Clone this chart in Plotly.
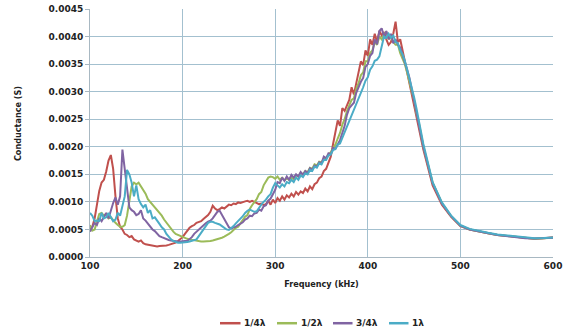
import plotly.graph_objects as go

# Frequency grid (kHz): 2.5 kHz steps 100-460, then 10 kHz steps 470-600
freq_fine = [100 + 2.5 * i for i in range(145)]
freq_tail = [470, 480, 490, 500, 510, 520, 530, 540, 550, 560, 570, 580, 590, 600]
freq = freq_fine + freq_tail

# Conductance values in units of 1e-4 S
quarter = [
    5.0, 5.5, 7.0, 9.5,      12.0, 13.5, 14.0, 15.5,   17.5, 18.5, 16.0, 11.0,
    7.0, 5.5, 5.0, 4.2,      4.0, 3.6, 3.8, 3.2,       3.0, 2.8, 3.0, 2.5,
    2.3, 2.2, 2.1, 2.0,      2.0, 1.9, 2.0, 2.0,       2.1, 2.1, 2.2, 2.3,
    2.4, 2.6, 2.9, 3.3,      3.6, 4.2, 4.8, 5.3,       5.6, 5.8, 6.2, 6.4,
    6.5, 6.9, 7.2, 7.6,      8.2, 9.3, 8.8, 8.5,       8.7, 9.0, 8.8, 9.2,
    9.5, 9.4, 9.7, 9.6,      9.9, 9.8, 10.0, 10.1,     10.2, 10.0, 10.2, 10.0,
    9.8, 9.6, 9.7, 9.4,      9.6, 10.2, 9.5, 10.4,     9.8, 10.7, 10.2, 11.0,
    10.4, 11.2, 10.8, 11.5,  11.0, 11.8, 11.3, 11.9,   11.6, 12.4, 11.9, 12.8,
    12.3, 13.2, 13.5, 14.3,  14.6, 15.6, 16.0, 17.3,   18.2, 20.5, 22.5, 24.8,
    23.8, 27.0, 26.5, 27.5,  28.5, 30.8, 29.5, 31.5,   33.5, 35.5, 34.8, 37.5,
    36.5, 39.5, 38.5, 40.5,  39.0, 41.0, 40.2, 40.8,   39.5, 38.5, 39.0, 40.5,
    42.7, 39.0, 39.5, 37.5,  36.0, 34.0, 31.5, 30.0,   28.0, 26.0, 24.0, 21.5,
    19.5,
    13.0, 9.5, 7.3, 5.6, 5.0, 4.6, 4.3, 4.0, 3.8, 3.6, 3.4, 3.3, 3.4, 3.6,
]
half = [
    5.8, 4.8, 5.0, 6.5,      7.8, 8.0, 7.5, 7.8,       7.0, 7.2, 6.6, 6.2,
    5.8, 5.5, 5.5, 5.8,      7.5, 10.5, 12.8, 13.5,    13.2, 13.5, 12.8, 12.0,
    11.5, 10.5, 10.0, 9.5,   9.0, 8.6, 8.0, 7.5,       6.8, 6.2, 5.6, 5.0,
    4.6, 4.2, 4.0, 3.8,      3.6, 3.4, 3.3, 3.2,       3.1, 3.0, 2.9, 2.9,
    2.8, 2.8, 2.8, 2.8,      2.9, 3.0, 3.1, 3.2,       3.3, 3.5, 3.7, 3.9,
    4.2, 4.5, 4.9, 5.3,      5.5, 6.1, 6.6, 7.3,       7.6, 8.7, 9.4, 10.0,
    10.5, 11.4, 11.8, 13.0,  13.6, 14.4, 14.6, 14.5,   14.2, 14.6, 14.0, 14.4,
    13.9, 14.3, 14.0, 14.4,  14.1, 14.8, 14.6, 15.3,   15.0, 15.6, 15.4, 16.2,
    16.0, 16.8, 16.6, 17.3,  17.2, 17.8, 17.9, 18.6,   19.0, 19.8, 20.4, 21.5,
    22.5, 24.0, 25.0, 26.5,  27.5, 28.5, 28.8, 30.5,   31.5, 33.0, 33.5, 35.5,
    35.5, 37.0, 37.5, 39.0,  38.5, 40.0, 39.5, 40.5,   40.8, 39.5, 40.0, 39.0,
    38.5, 38.5, 37.0, 36.0,  35.0, 33.5, 32.0, 30.0,   28.5, 26.0, 24.5, 22.0,
    20.0,
    13.5, 9.8, 7.4, 5.7, 5.0, 4.6, 4.3, 4.0, 3.8, 3.6, 3.4, 3.3, 3.4, 3.5,
]
three_quarter = [
    4.6, 5.5, 6.2, 5.8,      7.0, 6.5, 7.2, 8.0,       7.0, 8.5, 9.8, 10.8,
    9.5, 11.0, 19.5, 16.0,   12.5, 9.0, 8.5, 8.2,      7.6, 7.8, 8.5, 7.0,
    6.6, 6.0, 5.6, 5.0,      4.7, 4.3, 3.8, 3.6,       3.4, 3.3, 3.1, 3.0,
    2.9, 2.8, 2.8, 2.8,      2.9, 2.9, 2.9, 3.2,       3.6, 4.2, 4.6, 5.0,
    5.4, 5.7, 6.1, 6.4,      6.6, 7.0, 7.6, 8.2,       8.4, 7.6, 6.8, 6.0,
    5.4, 5.2, 5.3, 5.5,      5.8, 6.0, 6.3, 6.8,       7.0, 7.5, 7.4, 7.9,
    8.0, 8.6, 8.4, 9.2,      9.4, 10.2, 10.6, 11.4,    12.2, 13.6, 13.4, 14.4,
    13.8, 14.6, 14.0, 14.9,  14.4, 15.0, 14.6, 15.4,   14.9, 15.6, 15.2, 16.1,
    15.8, 16.6, 16.4, 17.2,  17.0, 18.2, 17.9, 18.8,   18.6, 19.8, 19.6, 20.4,
    21.2, 22.5, 23.8, 25.8,  27.0, 27.5, 28.0, 29.8,   31.0, 31.8, 32.5, 34.5,
    35.0, 36.5, 37.0, 39.5,  38.6, 41.0, 41.5, 40.0,   41.0, 39.5, 40.5, 38.8,
    39.5, 38.5, 38.0, 36.5,  35.5, 34.0, 32.5, 30.5,   28.5, 26.5, 24.5, 22.5,
    20.0,
    13.4, 9.7, 7.4, 5.7, 5.0, 4.6, 4.3, 4.0, 3.8, 3.6, 3.4, 3.35, 3.4, 3.5,
]
full = [
    8.0, 7.5, 6.5, 6.6,      6.5, 8.0, 7.0, 7.2,       8.0, 7.2, 6.5, 6.8,
    8.0, 7.5, 9.0, 11.0,     15.8, 15.0, 13.5, 11.0,   13.0, 10.5, 9.6, 9.0,
    9.5, 8.0, 8.5, 7.0,      7.2, 6.5, 6.0, 5.4,       5.0, 4.2, 3.6, 3.2,
    2.9, 2.7, 2.6, 2.6,      2.6, 2.6, 2.7, 2.8,       2.9, 3.0, 3.2, 3.8,
    4.4, 4.9, 5.6, 6.2,      6.4, 6.4, 6.2, 6.1,       5.9, 5.6, 5.3, 5.0,
    4.9, 5.2, 5.6, 6.1,      6.5, 7.0, 7.4, 8.0,       8.4, 8.6, 8.4, 8.2,
    8.3, 9.0, 9.5, 10.0,     10.4, 11.0, 11.4, 12.6,   13.4, 13.0, 12.6, 13.2,
    12.8, 13.6, 13.4, 14.0,  13.6, 14.4, 14.0, 14.8,   14.5, 15.2, 15.0, 15.8,
    15.6, 16.4, 16.2, 17.0,  16.8, 17.6, 17.6, 18.4,   18.6, 19.4, 19.6, 20.4,
    20.6, 21.6, 22.6, 23.8,  24.8, 25.6, 26.8, 27.6,   28.6, 29.8, 30.8, 32.0,
    32.6, 34.0, 34.6, 35.6,  35.8, 36.4, 38.0, 40.0,   39.8, 40.5, 39.8, 40.2,
    39.0, 38.8, 37.5, 36.8,  35.6, 34.0, 32.5, 31.0,   29.0, 27.0, 25.0, 23.0,
    20.5,
    13.6, 9.9, 7.5, 5.8, 5.1, 4.7, 4.4, 4.1, 3.9, 3.7, 3.5, 3.4, 3.45, 3.55,
]

series_names = ["1/4λ", "1/2λ", "3/4λ", "1λ"]
series_values = [quarter, half, three_quarter, full]
series_colors = ["#c0504d", "#9bbb59", "#8064a2", "#4bacc6"]

x_ticks = [100, 200, 300, 400, 500, 600]
y_ticks = [0.0, 0.0005, 0.0010, 0.0015, 0.0020, 0.0025, 0.0030, 0.0035, 0.0040, 0.0045]
y_tick_labels = ["0.0000", "0.0005", "0.0010", "0.0015", "0.0020", "0.0025",
                 "0.0030", "0.0035", "0.0040", "0.0045"]

fig = go.Figure()
for name, vals, col in zip(series_names, series_values, series_colors):
    assert len(vals) == len(freq), (name, len(vals))
    fig.add_trace(go.Scatter(
        x=freq, y=[v * 1e-4 for v in vals], mode="lines", name=name,
        line=dict(color=col, width=2), showlegend=False,
    ))

title_font = dict(family="DejaVu Sans Condensed", size=9, color="#222222", weight="bold")
tick_font = dict(family="DejaVu Sans", size=9, color="#222222", weight="bold")

# Compact Excel-style legend (short line samples) below the axis title
legend_y = -0.267
legend_line_x = [(0.2808, 0.3251), (0.4039, 0.4471), (0.5248, 0.5670), (0.6458, 0.6879)]
for (x0, x1), name, col in zip(legend_line_x, series_names, series_colors):
    fig.add_shape(type="line", xref="paper", yref="paper", x0=x0, x1=x1,
                  y0=legend_y, y1=legend_y, line=dict(color=col, width=2.5))
    fig.add_annotation(xref="paper", yref="paper", x=x1 + 0.004, y=legend_y,
                       text=name, showarrow=False, xanchor="left", yanchor="middle",
                       font=tick_font)

# Y-axis title placed as in the reference
fig.add_annotation(xref="paper", yref="paper", x=-0.1555, y=0.536,
                   text="Conductance (S)", textangle=-90, showarrow=False,
                   xanchor="center", yanchor="middle", font=title_font)

grid_col = "#a3c0cf"
axis_col = "#a8b8c2"

fig.update_layout(
    width=563, height=331,
    margin=dict(l=90, r=10, t=9, b=74, autoexpand=False),
    paper_bgcolor="white", plot_bgcolor="white",
    showlegend=False,
    xaxis=dict(
        range=[100, 600], tickvals=x_ticks, ticktext=[str(t) for t in x_ticks],
        showgrid=True, gridcolor=grid_col, gridwidth=1,
        showline=True, linecolor=axis_col, linewidth=1, mirror=False,
        ticks="", tickfont=tick_font, zeroline=False, automargin=False,
        title=dict(text="Frequency (kHz)", standoff=10, font=title_font),
    ),
    yaxis=dict(
        range=[0, 0.0045], tickvals=y_ticks, ticktext=y_tick_labels,
        showgrid=True, gridcolor=grid_col, gridwidth=1,
        showline=True, linecolor=axis_col, linewidth=1,
        ticks="outside", ticklen=4, tickcolor=axis_col,
        tickfont=tick_font, zeroline=False, automargin=False,
    ),
)

fig.write_html("out.html", config={"displayModeBar": False},
               post_script="document.body.style.margin='0';")
